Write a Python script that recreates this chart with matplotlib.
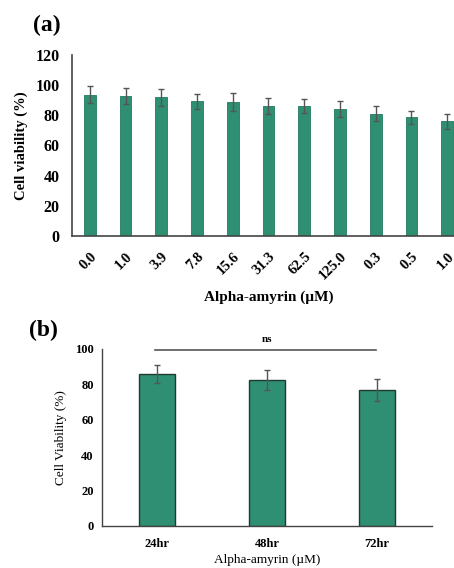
import matplotlib.pyplot as plt
import numpy as np

plt.rcParams['font.family'] = ['Liberation Serif', 'DejaVu Serif']

# panel (a) data
conc_labels = ['0.0', '1.0', '3.9', '7.8', '15.6', '31.3', '62.5', '125.0', '0.3', '0.5', '1.0']
viability_a = [93.8, 92.9, 92.0, 89.4, 88.7, 86.5, 86.1, 84.1, 81.0, 78.6, 76.0]
err_a = [5.5, 5.3, 5.5, 5.0, 5.8, 5.3, 4.6, 5.5, 5.0, 4.2, 4.8]

# panel (b) data
time_labels = ['24hr', '48hr', '72hr']
viability_b = [85.9, 82.5, 76.6]
err_b = [5.2, 5.5, 6.2]

bar_col = '#2e8f72'
err_col = '#555555'
spine_col = '#444444'

fig = plt.figure(figsize=(4.54, 5.68), dpi=100)

# ----- (a)
ax1 = fig.add_axes([0.1586, 0.5845, 0.8656, 0.3187])
x1 = np.arange(len(conc_labels))
ax1.bar(x1, viability_a, width=0.33, color=bar_col, edgecolor='#237a5f', linewidth=0.6,
        yerr=err_a, capsize=2.5, error_kw=dict(ecolor=err_col, elinewidth=1.0, capthick=1.0))
ax1.set_xlim(-0.5, len(conc_labels) - 0.5)
ax1.set_ylim(0, 120)
ax1.set_yticks(range(0, 121, 20))
ax1.set_xticks(x1)
ax1.set_xticklabels(conc_labels, rotation=45, ha='right', rotation_mode='anchor')
for lab in ax1.get_xticklabels():
    lab.set_fontweight('bold')
    lab.set_fontsize(10.5)
for lab in ax1.get_yticklabels():
    lab.set_fontweight('bold')
    lab.set_fontsize(11.5)
ax1.tick_params(axis='y', length=0, pad=9)
ax1.tick_params(axis='x', length=0, pad=10)
for s in ['top', 'right']:
    ax1.spines[s].set_visible(False)
for s in ['left', 'bottom']:
    ax1.spines[s].set_color(spine_col)
    ax1.spines[s].set_linewidth(1.2)
ax1.set_ylabel('Cell viability (%)', fontsize=10.5, fontweight='bold', labelpad=5)
ax1.set_xlabel('Alpha-amyrin (\u00b5M)', fontsize=11, fontweight='bold', labelpad=6)
fig.text(0.072, 0.955, '(a)', fontsize=17, fontweight='bold', va='center')

# ----- (b)
ax2 = fig.add_axes([0.2247, 0.0745, 0.7269, 0.3111])
x2 = np.arange(len(time_labels))
ax2.bar(x2, viability_b, width=0.32, color=bar_col, edgecolor='#1f3a30', linewidth=1.0,
        yerr=err_b, capsize=2.5, error_kw=dict(ecolor=err_col, elinewidth=1.0, capthick=1.0))
ax2.set_xlim(-0.5, len(time_labels) - 0.5)
ax2.set_ylim(0, 100)
ax2.set_yticks(range(0, 101, 20))
ax2.set_xticks(x2)
ax2.set_xticklabels(time_labels)
for lab in ax2.get_xticklabels() + ax2.get_yticklabels():
    lab.set_fontweight('bold')
    lab.set_fontsize(9)
ax2.tick_params(axis='y', length=0, pad=6)
ax2.tick_params(axis='x', length=0, pad=9)
for s in ['top', 'right']:
    ax2.spines[s].set_visible(False)
for s in ['left', 'bottom']:
    ax2.spines[s].set_color(spine_col)
    ax2.spines[s].set_linewidth(1.0)
ax2.set_ylabel('Cell Viability (%)', fontsize=9.5, labelpad=6)
ax2.set_xlabel('Alpha-amyrin (\u00b5M)', fontsize=9.5, labelpad=3)
ax2.plot([x2[0] - 0.02, x2[-1] - 0.01], [99.5, 99.5], color='#555555', lw=1.2, clip_on=False)
ax2.text((x2[0] + x2[-1]) / 2, 103, 'ns', ha='center', va='bottom', fontsize=8, fontweight='bold')
fig.text(0.064, 0.419, '(b)', fontsize=17, fontweight='bold', va='center')

fig.savefig('out.png', dpi=100)
